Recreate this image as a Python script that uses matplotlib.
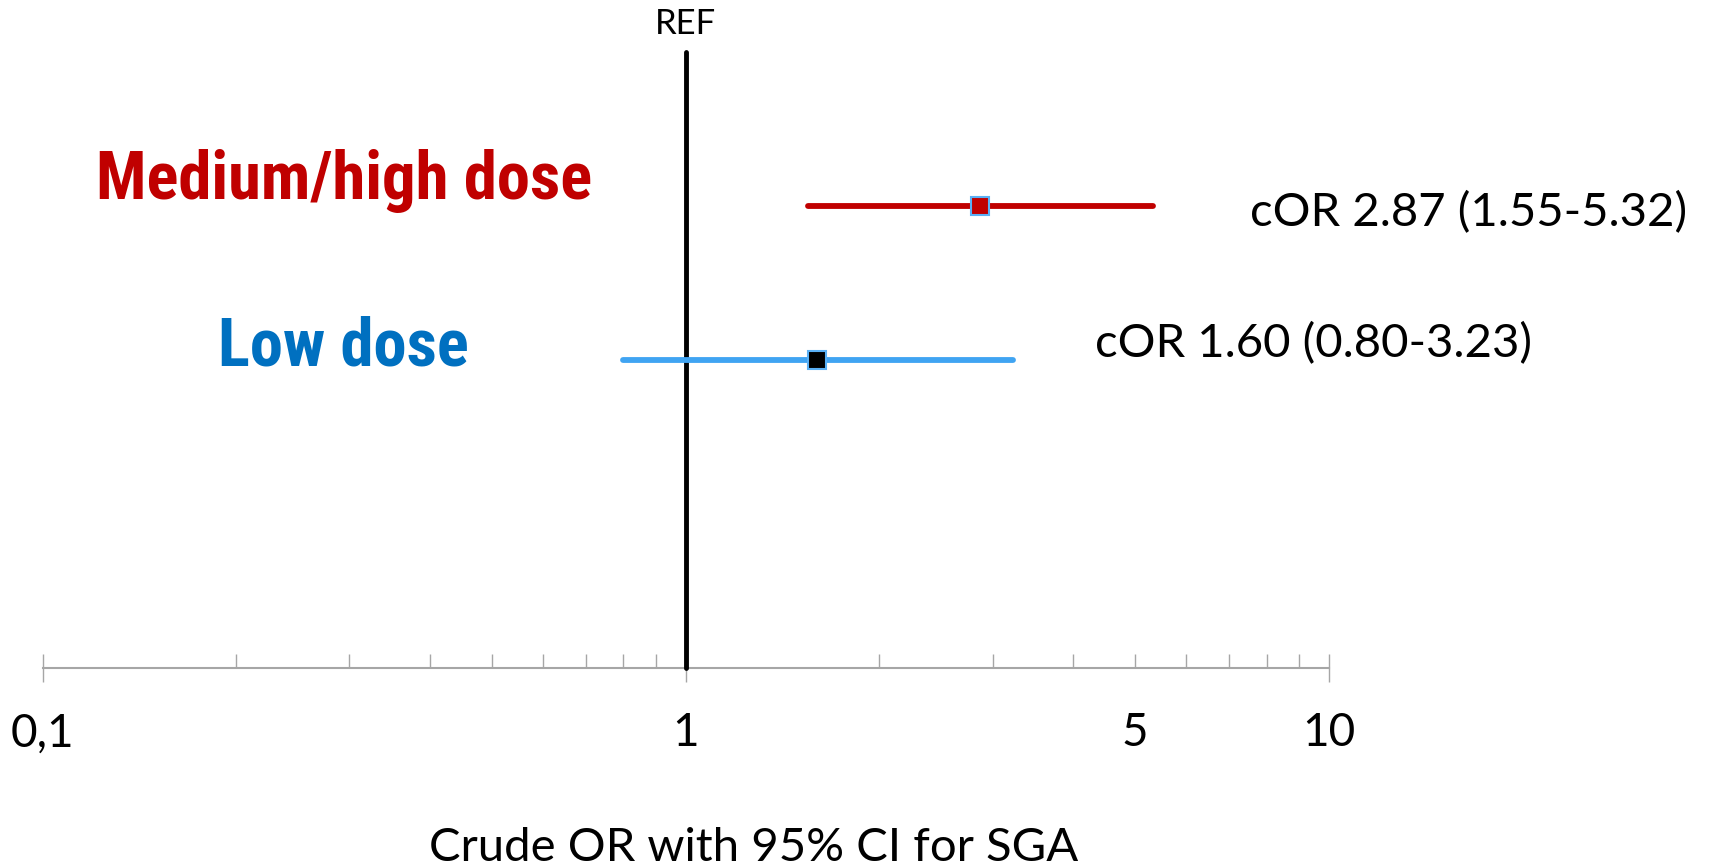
import numpy as np
import matplotlib.pyplot as plt
from matplotlib import font_manager
from matplotlib.ticker import FixedLocator, FixedFormatter

# data
groups = ['Medium/high dose', 'Low dose']
odds = [2.87, 1.60]
ci_low = [1.55, 0.80]
ci_high = [5.32, 3.23]
ypos = [3, 2]
line_colors = ['#C00000', '#40A4F2']
face_colors = ['#C00000', '#000000']
text_colors = ['#C00000', '#0070C0']
ci_text = ['cOR 2.87 (1.55-5.32)', 'cOR 1.60 (0.80-3.23)']

major_ticks = [0.1, 1, 10]
major_labels = ['0,1', '1', '10']
minor_ticks = [0.2, 0.3, 0.4, 0.5, 0.6, 0.7, 0.8, 0.9, 2, 3, 4, 5, 6, 7, 8, 9]
minor_labels = ['', '', '', '', '', '', '', '', '', '', '', '5', '', '', '', '']

# look for a narrow bold font for the group names (Arial Narrow look)
names = {f.name for f in font_manager.fontManager.ttflist}
head_font = 'Liberation Sans'
head_size = 43
for cand in ['Liberation Sans Narrow', 'Roboto Condensed', 'Open Sans Condensed', 'Noto Sans Condensed']:
    if cand in names:
        head_font = cand
        head_size = 48
        break
body_font = 'Lato'

fig = plt.figure(figsize=(17.12, 8.66), dpi=100)
ax = fig.add_axes([0.0249, 0.2286, 0.7513, 0.7113])
ax.set_xscale('log')
ax.set_xlim(0.1, 10)
ax.set_ylim(0, 4)

# reference line at OR = 1
ax.plot([1, 1], [0, 4], color='black', lw=3.5, solid_capstyle='round', zorder=3, clip_on=False)

for i in range(len(groups)):
    ax.plot([ci_low[i], ci_high[i]], [ypos[i], ypos[i]], color=line_colors[i], lw=4.2,
            solid_capstyle='round', zorder=4)
    ax.plot(odds[i], ypos[i], marker='s', ms=12.5, mfc=face_colors[i], mec='#5AB0F5',
            mew=1.5, zorder=5)

ax.text(0.234, 0.761, groups[0], transform=ax.transAxes, ha='center', va='baseline',
        color=text_colors[0], fontsize=head_size, fontweight='bold', family=head_font)
ax.text(0.234, 0.491, groups[1], transform=ax.transAxes, ha='center', va='baseline',
        color=text_colors[1], fontsize=head_size, fontweight='bold', family=head_font)

ax.text(0.939, 0.718, ci_text[0], transform=ax.transAxes, ha='left', va='baseline',
        fontsize=34, family=body_font, clip_on=False)
ax.text(0.818, 0.504, ci_text[1], transform=ax.transAxes, ha='left', va='baseline',
        fontsize=34, family=body_font, clip_on=False)

ax.text(1, 1.030, 'REF', transform=ax.get_xaxis_transform(), ha='center', va='baseline',
        fontsize=25, family=body_font)

for s in ['top', 'right', 'left']:
    ax.spines[s].set_visible(False)
ax.spines['bottom'].set_color('#A6A6A6')
ax.spines['bottom'].set_linewidth(1.5)
ax.set_yticks([])

ax.xaxis.set_major_locator(FixedLocator(major_ticks))
ax.xaxis.set_major_formatter(FixedFormatter(major_labels))
ax.xaxis.set_minor_locator(FixedLocator(minor_ticks))
ax.xaxis.set_minor_formatter(FixedFormatter(minor_labels))
ax.tick_params(axis='x', which='major', direction='inout', length=20, width=1, color='#A6A6A6',
               labelsize=33, pad=22)
ax.tick_params(axis='x', which='minor', direction='in', length=10, width=1, color='#A6A6A6',
               labelsize=33, pad=32)
for lab in ax.get_xticklabels(which='both'):
    lab.set_family(body_font)

fig.text(0.44, 0.006, 'Crude OR with 95% CI for SGA', ha='center', va='baseline',
         fontsize=34, family=body_font)

fig.savefig('out.png', dpi=100)
